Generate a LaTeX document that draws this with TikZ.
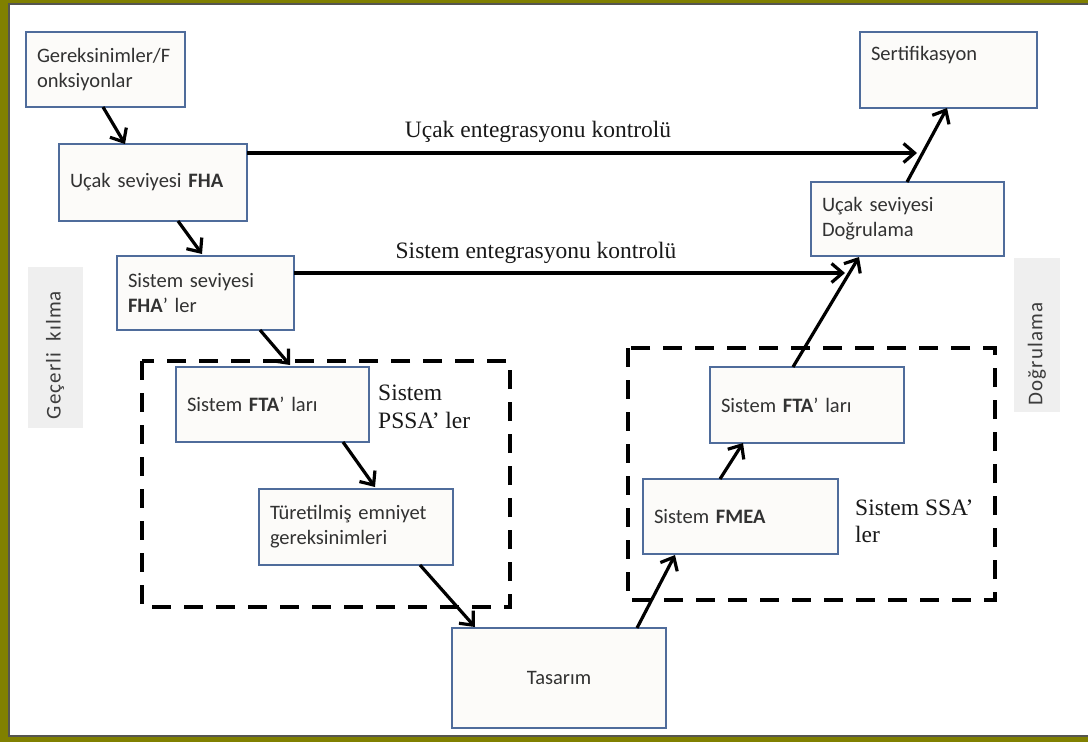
\documentclass[tikz,border=0pt]{standalone}
\usepackage{fontspec}
\setmainfont{Liberation Serif}
\newfontfamily\boxfont{Carlito}
\newfontfamily\sidefont[LetterSpace=5]{Carlito}
\usetikzlibrary{arrows.meta,calc}

\definecolor{frameolive}{RGB}{128,128,0}
\definecolor{frameline}{RGB}{85,85,80}
\definecolor{boxblue}{RGB}{79,108,155}
\definecolor{boxfill}{RGB}{252,251,249}
\definecolor{boxtext}{RGB}{50,50,50}
\definecolor{sidegray}{RGB}{239,239,239}
\definecolor{sidetext}{RGB}{60,60,60}
\definecolor{labeltext}{RGB}{25,25,25}

\tikzset{
  box/.style={draw=boxblue, fill=boxfill, line width=1.8pt, inner xsep=11pt,
    inner ysep=0pt, outer sep=0pt, align=left, text=boxtext,
    font=\boxfont\fontsize{20.5}{25}\selectfont},
  arr/.style={line width=3.2pt, draw=black, -{Straight Barb[length=11pt,width=19pt]}},
  dashbox/.style={draw=black, line width=3.5pt, dash pattern=on 19pt off 13pt},
  sidelabel/.style={text=sidetext, font=\sidefont\fontsize{21}{24}\selectfont, inner sep=0pt},
  flowlabel/.style={text=labeltext, font=\fontsize{23.5}{28}\selectfont, inner sep=0pt, align=left}
}

\begin{document}
\begin{tikzpicture}[x=1pt,y=-1pt]
  \useasboundingbox (0,0) rectangle (1088,742);

  % frame
  \fill[frameolive] (0,0) rectangle (1088,742);
  \fill[white] (9,4) rectangle (1088,736);
  \draw[frameline, line width=2.2pt] (1088,4) -- (9,4) -- (9,736) -- (1088,736);

  % side captions
  \fill[sidegray] (28,267) rectangle (83,428);
  \node[sidelabel, rotate=90] (valid) at (55,355) {Geçerli\ \ kılma};
  \fill[sidegray] (1014,258) rectangle (1060,412);
  \node[sidelabel, rotate=90] (verif) at (1037,354) {Doğrulama};

  % PSSA and SSA groups
  \draw[dashbox] (142,361) rectangle (510,607);
  \draw[dashbox] (628,348) rectangle (995,600);

  % process boxes
  \node[box, text width=137pt, minimum height=75pt] (req) at (105.5,69.5) {Gereksinimler/F\\onksiyonlar};
  \node[box, text width=166pt, minimum height=77pt] (fha) at (153,182.5) {Uçak seviyesi \textbf{FHA}};
  \node[box, text width=155pt, minimum height=74pt] (sfha) at (205.5,293) {Sistem seviyesi\\\textbf{FHA}’ ler};
  \node[box, text width=171pt, minimum height=75pt] (ftal) at (272.5,404.5) {Sistem \textbf{FTA}’ ları};
  \node[box, text width=172pt, minimum height=76pt] (tur) at (356,527) {Türetilmiş emniyet\\gereksinimleri};
  \node[box, text width=192pt, minimum height=100pt, align=center] (tas) at (559,678) {Tasarım};
  \node[box, text width=173pt, minimum height=75pt] (fmea) at (740.5,516.5) {Sistem \textbf{FMEA}};
  \node[box, text width=172pt, minimum height=76pt] (ftar) at (807,405) {Sistem \textbf{FTA}’ ları};
  \node[box, text width=171pt, minimum height=74pt] (dog) at (907.5,219) {Uçak seviyesi\\Doğrulama};
  \node[box, text width=155pt, minimum height=76pt] (sert) at (948.5,70) {Sertifikasyon\\\strut};

  % group and integration labels
  \node[flowlabel, anchor=base west] (pssa1) at (378,400) {Sistem};
  \node[flowlabel, anchor=base west] (pssa2) at (378,428) {PSSA’ ler};
  \node[flowlabel, anchor=base west] (ssa1) at (855,515) {Sistem SSA’};
  \node[flowlabel, anchor=base west] (ssa2) at (855,542) {ler};
  \node[flowlabel, anchor=base] (aic) at (538,137) {Uçak entegrasyonu kontrolü};
  \node[flowlabel, anchor=base] (sic) at (536,258) {Sistem entegrasyonu kontrolü};

  % free ends of the integration checks
  \coordinate (aicend) at (917,153);
  \coordinate (sicend) at (845,273);

  % flow
  \draw[arr] ([xshift=77pt]req.south west) -- ([xshift=66pt]fha.north west);
  \draw[arr] ([xshift=119pt]fha.south west) -- ([xshift=85pt,yshift=2pt]sfha.north west);
  \draw[arr] ([xshift=143pt]sfha.south west) -- ([xshift=114pt,yshift=2pt]ftal.north west);
  \draw[arr] ([xshift=167pt]ftal.south west) -- ([xshift=116pt,yshift=2pt]tur.north west);
  \draw[arr] ([xshift=161pt]tur.south west) -- ([xshift=23pt,yshift=1pt]tas.north west);
  \draw[arr] ([xshift=185pt]tas.north west) -- ([xshift=32pt,yshift=-1pt]fmea.south west);
  \draw[arr] ([xshift=77pt]fmea.north west) -- ([xshift=33pt]ftar.south west);
  \draw[arr] ([xshift=83pt]ftar.north west) -- ([xshift=48pt,yshift=-1pt]dog.south west);
  \draw[arr] ([xshift=96pt]dog.north west) -- ([xshift=87pt]sert.south west);
  \draw[arr] ([yshift=-9pt]fha.north east) -- (aicend);
  \draw[arr] ([yshift=-17pt]sfha.north east) -- (sicend);
\end{tikzpicture}
\end{document}
